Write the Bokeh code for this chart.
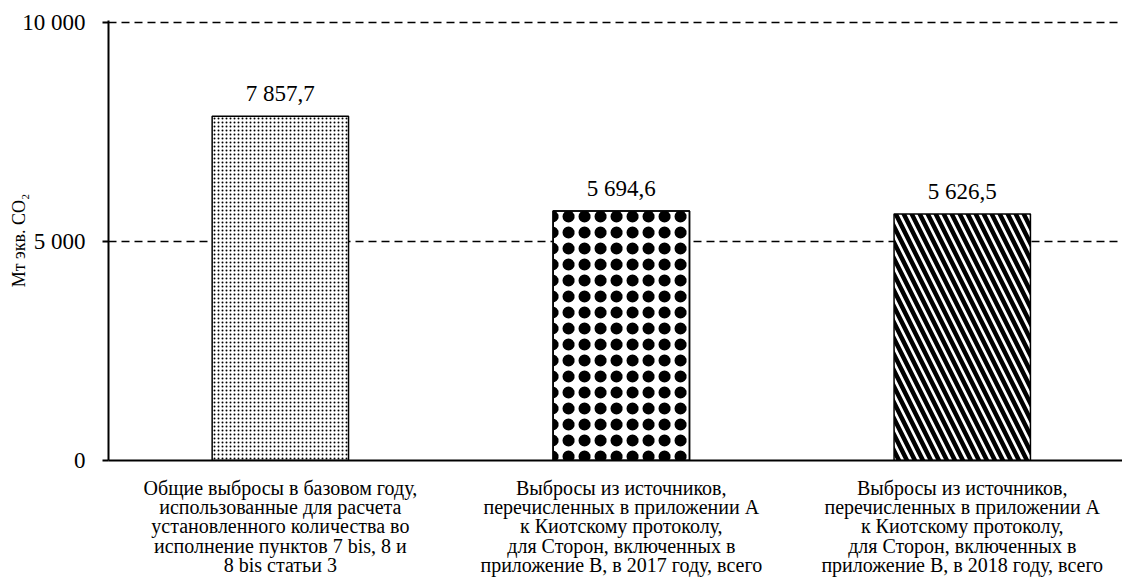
from bokeh.plotting import figure
from bokeh.models import Range1d, FixedTicker, Label
from bokeh.embed import file_html
from bokeh.resources import INLINE

categories = [
    "Общие выбросы в базовом году,\nиспользованные для расчета\nустановленного количества во\nисполнение пунктов 7 bis, 8 и\n8 bis статьи 3",
    "Выбросы из источников,\nперечисленных в приложении А\nк Киотскому протоколу,\nдля Сторон, включенных в\nприложение В, в 2017 году, всего",
    "Выбросы из источников,\nперечисленных в приложении А\nк Киотскому протоколу,\nдля Сторон, включенных в\nприложение В, в 2018 году, всего",
]
values = [7857.7, 5694.6, 5626.5]
y_ticks = [0, 5000, 10000]
y_label = "Мт экв. CO₂"

FONT = "Liberation Serif"


def fmt_value(v):
    return f"{v:,.1f}".replace(",", " ").replace(".", ",")


def fmt_tick(t):
    return f"{t:,d}".replace(",", " ")


p = figure(width=1122, height=581,
           x_range=Range1d(-0.504, 2.47), y_range=Range1d(0, 10046),
           output_backend="svg", toolbar_location=None,
           min_border_left=108, min_border_right=0,
           min_border_top=20, min_border_bottom=121)
p.outline_line_color = None
p.background_fill_color = "white"
p.border_fill_color = "white"

# grid
p.xgrid.visible = False
p.ygrid.ticker = FixedTicker(ticks=[t for t in y_ticks if t > 0])
p.ygrid.grid_line_color = "black"
p.ygrid.grid_line_width = 1.5
p.ygrid.grid_line_dash = "8 5"

# y axis
p.yaxis.ticker = FixedTicker(ticks=y_ticks)
p.yaxis.major_label_overrides = {t: fmt_tick(t) for t in y_ticks}
p.yaxis.major_label_text_font = FONT
p.yaxis.major_label_text_font_size = "23px"
p.yaxis.major_label_text_color = "black"
p.yaxis.major_label_standoff = 17
p.yaxis.major_tick_out = 6
p.yaxis.major_tick_in = 0
p.yaxis.major_tick_line_width = 2
p.yaxis.minor_tick_line_color = None
p.yaxis.axis_line_width = 2
p.yaxis.axis_line_color = "black"
p.yaxis.axis_label = y_label
p.yaxis.axis_label_text_font = FONT
p.yaxis.axis_label_text_font_size = "18px"
p.yaxis.axis_label_text_font_style = "normal"
p.yaxis.axis_label_text_color = "black"
p.yaxis.axis_label_standoff = -10

# x axis: category labels as multi-line tick labels
p.xaxis.ticker = FixedTicker(ticks=list(range(len(categories))))
p.xaxis.major_label_overrides = {i: c for i, c in enumerate(categories)}
p.xaxis.major_label_text_font = FONT
p.xaxis.major_label_text_font_size = "20px"
p.xaxis.major_label_text_line_height = 0.88
p.xaxis.major_label_text_color = "black"
p.xaxis.major_label_standoff = 16
p.xaxis.axis_line_width = 2
p.xaxis.axis_line_color = "black"
p.xaxis.major_tick_line_color = None
p.xaxis.minor_tick_line_color = None
p.xaxis.major_tick_out = 0
p.xaxis.major_tick_in = 0

styles = [
    [dict(hatch_pattern="dot", hatch_scale=4, hatch_weight=1.2)],
    [dict(hatch_pattern="dot", hatch_scale=16, hatch_weight=1),
     dict(hatch_pattern="ring", hatch_scale=16, hatch_weight=4)],
    [dict(hatch_pattern="left_diagonal_line", hatch_scale=16, hatch_weight=4.5)],
]

for i, v in enumerate(values):
    for k, st in enumerate(styles[i]):
        p.vbar(x=[i], top=[v], bottom=0, width=0.40,
               fill_color="white", fill_alpha=1.0 if k == 0 else 0.0,
               line_color="black", line_width=1.5,
               hatch_color="black", **st)
    p.add_layout(Label(x=i, y=v, y_offset=23, text=fmt_value(v),
                       text_align="center", text_baseline="middle",
                       text_font=FONT, text_font_size="23px", text_color="black"))

open("out.html", "w").write(file_html(p, INLINE))
